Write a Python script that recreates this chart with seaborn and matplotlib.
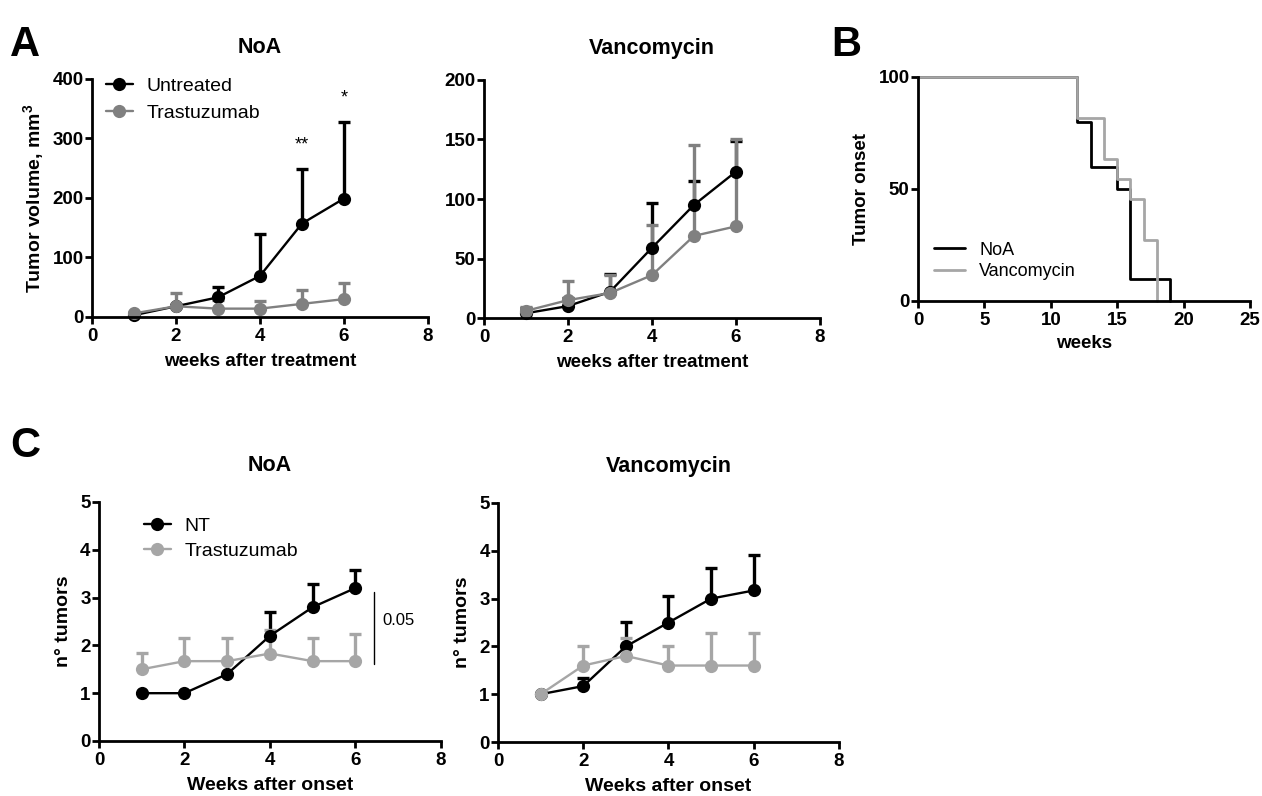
import numpy as np
import pandas as pd
import matplotlib
matplotlib.use("Agg")
import matplotlib.pyplot as plt
import seaborn as sns

# ---------------- data ----------------
weeks = [1, 2, 3, 4, 5, 6]

# Panel A - tumor volume (mean and top of the upper error bar)
a_noa_untreated = [3, 18, 33, 69, 157, 199]
a_noa_untreated_top = [4, 20, 51, 140, 249, 327]
a_noa_trast = [6, 18, 14, 14, 22, 30]
a_noa_trast_top = [9, 40, 29, 27, 46, 57]

a_van_untreated = [4, 10, 22, 59, 95, 123]
a_van_untreated_top = [8, 17, 37, 97, 115, 149]
a_van_trast = [6, 15, 21, 36, 69, 77]
a_van_trast_top = [9, 31, 36, 78, 145, 150]

# Panel B - tumor onset (Kaplan-Meier)
km_noa_t = [0, 12, 13, 15, 16, 19]
km_noa_s = [100, 80, 60, 50, 10, 0]
km_van_t = [0, 12, 14, 15, 16, 17, 18]
km_van_s = [100, 81.8, 63.6, 54.5, 45.5, 27.3, 0]

# Panel C - number of tumors
c_noa_nt = [1, 1, 1.4, 2.2, 2.8, 3.2]
c_noa_nt_top = [1, 1, 1.4, 2.69, 3.29, 3.58]
c_noa_tr = [1.5, 1.67, 1.67, 1.83, 1.67, 1.67]
c_noa_tr_top = [1.84, 2.16, 2.16, 2.32, 2.16, 2.23]

c_van_nt = [1, 1.17, 2, 2.5, 3, 3.17]
c_van_nt_top = [1, 1.34, 2.52, 3.06, 3.64, 3.92]
c_van_tr = [1, 1.6, 1.8, 1.6, 1.6, 1.6]
c_van_tr_top = [1, 2.0, 2.18, 2.0, 2.29, 2.29]

# ---------------- style ----------------
sns.set_style("ticks")
plt.rcParams["font.family"] = ["Liberation Sans", "DejaVu Sans"]
for k in ["text.color", "axes.labelcolor", "xtick.color", "ytick.color"]:
    plt.rcParams[k] = "black"
plt.rcParams["mathtext.fontset"] = "custom"
plt.rcParams["mathtext.rm"] = "Liberation Sans:bold"
plt.rcParams["mathtext.bf"] = "Liberation Sans:bold"

BLACK = "#000000"
GRAY_A = "#808080"
GRAY_C = "#a6a6a6"

fig = plt.figure(figsize=(12.62, 7.96), dpi=100)


def style_axes(ax, xlim, xticks, ylim, yticks):
    ax.set_xlim(*xlim)
    ax.set_ylim(*ylim)
    ax.set_xticks(xticks)
    ax.set_yticks(yticks)
    for s in ["top", "right"]:
        ax.spines[s].set_visible(False)
    for s in ["left", "bottom"]:
        ax.spines[s].set_linewidth(2.0)
        ax.spines[s].set_color("black")
        ax.spines[s].set_zorder(5)
    ax.tick_params(axis="both", direction="out", length=5, width=2,
                   labelsize=13.5, color="black", labelcolor="black")
    ax.tick_params(axis="x", pad=3)
    ax.tick_params(axis="y", pad=1)
    for lab in ax.get_xticklabels() + ax.get_yticklabels():
        lab.set_fontweight("bold")


def series(ax, y, top, color, label):
    y = np.asarray(y, float)
    top = np.asarray(top, float)
    up = top - y
    eb = ax.errorbar(weeks, y, yerr=[np.zeros_like(up), up], fmt="none",
                     ecolor=color, elinewidth=2.4, capsize=4.5, capthick=2.4,
                     zorder=3)
    eb[1][0].set_visible(False)
    for art in eb[1] + eb[2]:
        art.set_clip_on(False)
    df = pd.DataFrame({"week": weeks, "value": y})
    sns.lineplot(data=df, x="week", y="value", ax=ax, color=color,
                 marker="o", markersize=9.5, markeredgewidth=0,
                 linewidth=1.7, label=label, zorder=4, clip_on=False)


# ---------------- Panel A left ----------------
axA1 = fig.add_axes([0.0729, 0.6018, 0.2662, 0.299])
series(axA1, a_noa_untreated, a_noa_untreated_top, BLACK, "Untreated")
series(axA1, a_noa_trast, a_noa_trast_top, GRAY_A, "Trastuzumab")
style_axes(axA1, (0, 8), [0, 2, 4, 6, 8], (0, 400), [0, 100, 200, 300, 400])
axA1.set_title("NoA", fontsize=15.5, fontweight="bold", pad=19)
axA1.set_xlabel("weeks after treatment", fontsize=13.5, fontweight="bold", labelpad=6)
axA1.set_ylabel(r"Tumor volume, mm$^{3}$", fontsize=14, fontweight="bold", labelpad=4)
axA1.legend(loc="upper left", bbox_to_anchor=(0.0, 1.065), frameon=False,
            fontsize=14, handlelength=1.4, handletextpad=0.7, labelspacing=0.5,
            borderaxespad=0.3)
axA1.text(5, 289, "**", ha="center", va="center", fontsize=13)
axA1.text(6, 368, "*", ha="center", va="center", fontsize=13)

# ---------------- Panel A right ----------------
axA2 = fig.add_axes([0.3835, 0.6005, 0.2662, 0.299])
series(axA2, a_van_untreated, a_van_untreated_top, BLACK, None)
series(axA2, a_van_trast, a_van_trast_top, GRAY_A, None)
style_axes(axA2, (0, 8), [0, 2, 4, 6, 8], (0, 200), [0, 50, 100, 150, 200])
axA2.set_title("Vancomycin", fontsize=15.5, fontweight="bold", pad=19)
axA2.set_xlabel("weeks after treatment", fontsize=13.5, fontweight="bold", labelpad=6)
axA2.set_ylabel("")
if axA2.get_legend():
    axA2.get_legend().remove()

# ---------------- Panel B ----------------
axB = fig.add_axes([0.7274, 0.6219, 0.2631, 0.2814])
sns.lineplot(x=km_noa_t, y=km_noa_s, ax=axB, color=BLACK, linewidth=2.0,
             drawstyle="steps-post", label="NoA", clip_on=False, zorder=3)
sns.lineplot(x=km_van_t, y=km_van_s, ax=axB, color=GRAY_C, linewidth=2.0,
             drawstyle="steps-post", label="Vancomycin", clip_on=False, zorder=4)
style_axes(axB, (0, 25), [0, 5, 10, 15, 20, 25], (0, 100), [0, 50, 100])
axB.set_xlabel("weeks", fontsize=13.5, fontweight="bold", labelpad=4)
axB.set_ylabel("Tumor onset", fontsize=13.5, fontweight="bold", labelpad=6)
axB.legend(loc="lower left", bbox_to_anchor=(0.0, 0.02), frameon=False,
           fontsize=13, handlelength=1.7, handletextpad=0.8, labelspacing=0.25)

# ---------------- Panel C left ----------------
axC1 = fig.add_axes([0.0784, 0.0691, 0.271, 0.3003])
series(axC1, c_noa_nt, c_noa_nt_top, BLACK, "NT")
series(axC1, c_noa_tr, c_noa_tr_top, GRAY_C, "Trastuzumab")
style_axes(axC1, (0, 8), [0, 2, 4, 6, 8], (0, 5), [0, 1, 2, 3, 4, 5])
axC1.set_title("NoA", fontsize=15.5, fontweight="bold", pad=22)
axC1.set_xlabel("Weeks after onset", fontsize=14, fontweight="bold", labelpad=6)
axC1.set_ylabel("n° tumors", fontsize=14, fontweight="bold", labelpad=6)
axC1.legend(loc="upper left", bbox_to_anchor=(0.08, 1.01), frameon=False,
            fontsize=14, handlelength=1.4, handletextpad=0.7, labelspacing=0.4)
axC1.plot([6.43, 6.43], [1.61, 3.11], color="black", linewidth=1.0)
axC1.text(6.62, 2.53, "0.05", ha="left", va="center", fontsize=12)

# ---------------- Panel C right ----------------
axC2 = fig.add_axes([0.3946, 0.0678, 0.2702, 0.3003])
series(axC2, c_van_nt, c_van_nt_top, BLACK, None)
series(axC2, c_van_tr, c_van_tr_top, GRAY_C, None)
style_axes(axC2, (0, 8), [0, 2, 4, 6, 8], (0, 5), [0, 1, 2, 3, 4, 5])
axC2.set_title("Vancomycin", fontsize=15.5, fontweight="bold", pad=22)
axC2.set_xlabel("Weeks after onset", fontsize=14, fontweight="bold", labelpad=6)
axC2.set_ylabel("n° tumors", fontsize=14, fontweight="bold", labelpad=6)
if axC2.get_legend():
    axC2.get_legend().remove()

# ---------------- panel letters ----------------
fig.text(0.008, 0.968, "A", fontsize=30, fontweight="bold", va="top", ha="left")
fig.text(0.659, 0.968, "B", fontsize=30, fontweight="bold", va="top", ha="left")
fig.text(0.008, 0.465, "C", fontsize=30, fontweight="bold", va="top", ha="left")

fig.savefig("out.png", dpi=100)
